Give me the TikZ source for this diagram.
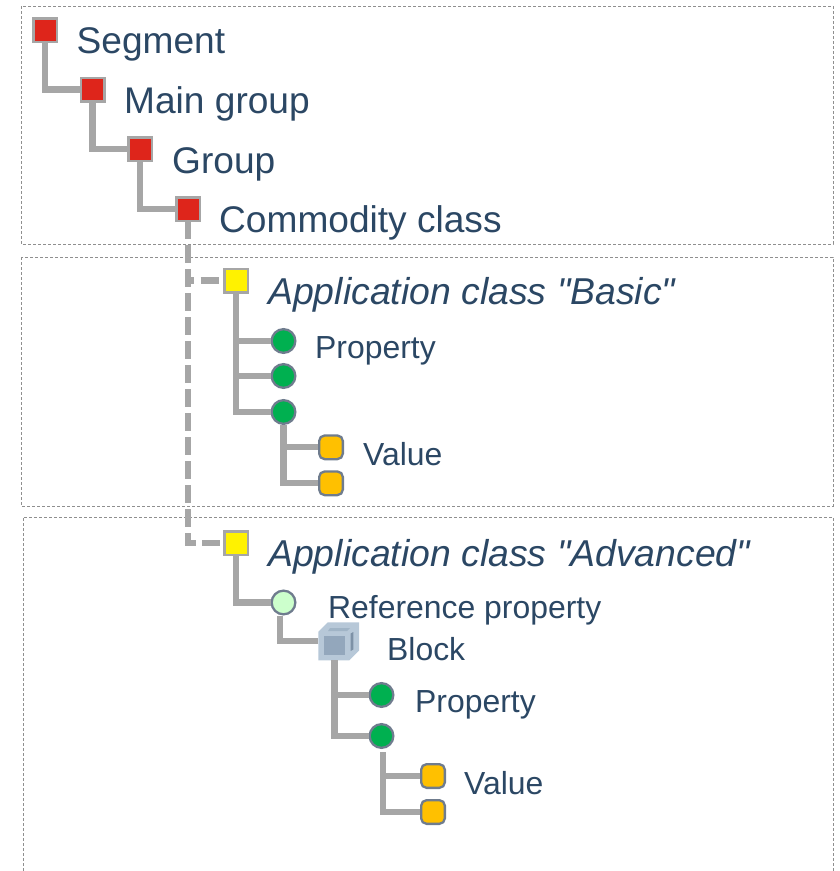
\documentclass[tikz,border=0pt]{standalone}
\usepackage{fontspec}
\newfontfamily\plainarial{Liberation Sans}
\usetikzlibrary{calc}
\definecolor{txt}{HTML}{2B4764}
\definecolor{conn}{HTML}{A6A6A6}
\definecolor{edge}{HTML}{6F7C8E}
\definecolor{boxline}{HTML}{8F8F8F}
\tikzset{
  x=1pt,y=-1pt,
  frame/.style={draw=boxline,line width=1pt,dash pattern=on 3pt off 2pt},
  sq/.style={draw=conn,line width=2.5pt,minimum size=23.5pt,inner sep=0pt,outer sep=1.25pt},
  redsq/.style={sq,fill={rgb,255:red,222;green,37;blue,27}},
  yelsq/.style={sq,fill=yellow},
  circ/.style={circle,draw=edge,line width=2.3pt,minimum size=23.7pt,inner sep=0pt,outer sep=1.15pt},
  grn/.style={circ,fill={rgb,255:red,0;green,176;blue,80}},
  lgrn/.style={circ,fill={rgb,255:red,204;green,255;blue,204}},
  org/.style={draw=edge,line width=2.3pt,rounded corners=5.5pt,minimum size=23.7pt,inner sep=0pt,outer sep=1.15pt,fill={rgb,255:red,255;green,192;blue,0}},
  cubenode/.style={minimum width=41pt,minimum height=38pt,inner sep=0pt,outer sep=0pt},
  lab/.style={anchor=base west,inner sep=0pt,text=txt},
  big/.style={lab,font=\plainarial\fontsize{37.1}{40}\selectfont},
  bigi/.style={lab,font=\plainarial\fontsize{37.4}{40}\selectfont\itshape},
  mid/.style={lab,font=\plainarial\fontsize{31.9}{36}\selectfont},
  conn1/.style={draw=conn,line width=6.2pt},
  conn2/.style={conn1,dash pattern=on 18pt off 6pt,dash phase=1pt},
  conn3/.style={conn1,dash pattern=on 6.3pt off 6.4pt on 18pt off 10pt},
}
\begin{document}
\begin{tikzpicture}
\useasboundingbox (0,0) rectangle (840,871);
% frames
\draw[frame] (21,6) rectangle (833,244);
\draw[frame] (21,257) rectangle (833,506);
\draw[frame] (23,871) -- (23,517) -- (833,517) -- (833,871);
% nodes
\node[redsq] (s1) at (45,30) {};
\node[redsq] (s2) at (92.5,89.5) {};
\node[redsq] (s3) at (140,149) {};
\node[redsq] (s4) at (188,209) {};
\node[yelsq] (y1) at (236,280.5) {};
\node[yelsq] (y2) at (236,543) {};
\node[grn] (g1) at (283.5,341) {};
\node[grn] (g2) at (283.5,376) {};
\node[grn] (g3) at (283.5,412) {};
\node[org] (o1) at (331,447.3) {};
\node[org] (o2) at (331,483.3) {};
\node[lgrn] (r1) at (283.5,602.5) {};
\node[cubenode] (cb) at (338.5,641) {};
\node[grn] (g4) at (381.5,695) {};
\node[grn] (g5) at (381.5,736) {};
\node[org] (o3) at (433,776) {};
\node[org] (o4) at (433,812) {};
% cube
\fill[fill={rgb,255:red,183;green,200;blue,216}] (318.3,631.7) -- (327.7,622.3) -- (359,622.3) -- (359,650.7) -- (349.3,660.3) -- (318.3,660.3) -- cycle;
\fill[fill={rgb,255:red,147;green,167;blue,188}] (324,636) rectangle (345.3,655);
\fill[fill={rgb,255:red,125;green,145;blue,166}] (350.7,633.5) -- (353.3,632) -- (353.3,649.5) -- (350.7,651) -- cycle;
\fill[fill={rgb,255:red,160;green,180;blue,198}] (330,628) -- (350,628) -- (347,631) -- (328,631) -- cycle;
% labels
\node[big] (t1) at (76.5,53) {Segment};
\node[big] (t2) at (124,113) {Main group};
\node[big] (t3) at (172,173) {Group};
\node[big] (t4) at (219,232) {Commodity class};
\node[bigi] (t5) at (268,304) {Application class "Basic"};
\node[mid] (t6) at (315,358) {Property};
\node[mid] (t7) at (363,465) {Value};
\node[bigi] (t8) at (268,566) {Application class "Advanced"};
\node[mid] (t9) at (328,618.5) {Reference property};
\node[mid] (t10) at (387,660) {Block};
\node[mid] (t11) at (415,712) {Property};
\node[mid] (t12) at (464,794) {Value};
% connectors
\draw[conn1] (s1.south) |- (s2.west);
\draw[conn1] (s2.south) |- (s3.west);
\draw[conn1] (s3.south) |- (s4.west);
\coordinate (j1) at (s4.south |- y1.west);
\draw[conn2] (s4.south) |- (y2.west);
\draw[conn3] (j1) -- (y1.west);
\draw[conn1] (y1.south) |- (g1.west);
\draw[conn1] (y1.south) |- (g2.west);
\draw[conn1] (y1.south) |- (g3.west);
\draw[conn1] (g3.south) |- (o1.west);
\draw[conn1] (g3.south) |- (o2.west);
\draw[conn1] (y2.south) |- (r1.west);
\draw[conn1] ([xshift=-3.5pt]r1.south) |- (cb.west);
\draw[conn1] ([xshift=-4pt]cb.south) |- (g4.west);
\draw[conn1] ([xshift=-4pt]cb.south) |- (g5.west);
\draw[conn1] ([xshift=1.5pt,yshift=-3pt]g5.south) |- (o3.west);
\draw[conn1] ([xshift=1.5pt,yshift=-3pt]g5.south) |- (o4.west);
\end{tikzpicture}
\end{document}
